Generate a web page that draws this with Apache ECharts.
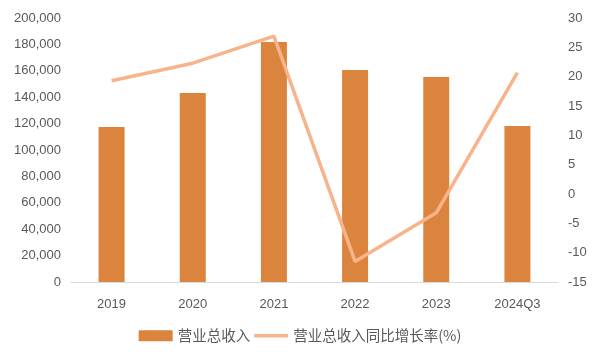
<!DOCTYPE html>
<html><head><meta charset="utf-8">
<script src="https://cdn.jsdelivr.net/npm/echarts@6/dist/echarts.min.js"></script>
<style>html,body{margin:0;padding:0;background:#fff}#c{width:600px;height:360px}</style>
</head><body><div id="c"></div>
<script>
const categories = ['2019','2020','2021','2022','2023','2024Q3'];
const revenue = [117400, 143200, 181800, 160600, 155300, 118200];
const growth = [19.3, 22.3, 26.9, -11.5, -3.2, 20.7];
const seriesNames = ['营业总收入', '营业总收入同比增长率(%)'];

const chart = echarts.init(document.getElementById('c'));
const font = '"Noto Sans CJK SC", "Microsoft YaHei", sans-serif';
chart.setOption({
  animation: false,
  grid: {left: 71, right: 42, top: 18, bottom: 78},
  legend: {
    bottom: 12, left: 'center', itemGap: 4, itemWidth: 34, itemHeight: 11,
    textStyle: {color: '#595959', fontSize: 14.5, fontFamily: font},
    data: [{name: seriesNames[0], icon: 'rect'}, {name: seriesNames[1], icon: 'path://M0,0H34V3.5H0Z'}]
  },
  xAxis: {
    type: 'category', data: categories,
    axisLine: {lineStyle: {color: '#d9d9d9', width: 1}},
    axisTick: {show: false},
    axisLabel: {color: '#595959', fontSize: 13, margin: 16, fontFamily: 'Liberation Sans, sans-serif'}
  },
  yAxis: [{
    type: 'value', min: 0, max: 200000, interval: 20000,
    splitLine: {show: false}, axisLine: {show: false}, axisTick: {show: false},
    axisLabel: {color: '#595959', fontSize: 13, margin: 10, fontFamily: 'Liberation Sans, sans-serif',
      formatter: v => v.toLocaleString('en-US')}
  }, {
    type: 'value', min: -15, max: 30, interval: 5,
    splitLine: {show: false}, axisLine: {show: false}, axisTick: {show: false},
    axisLabel: {color: '#595959', fontSize: 13, margin: 10, fontFamily: 'Liberation Sans, sans-serif'}
  }],
  series: [{
    name: seriesNames[0], type: 'bar', data: revenue, barWidth: 26,
    itemStyle: {color: '#DA843E'}
  }, {
    name: seriesNames[1], type: 'line', yAxisIndex: 1, data: growth,
    symbol: 'none', lineStyle: {color: '#F9B38A', width: 3.5},
    itemStyle: {color: '#F9B38A'}
  }]
});
</script></body></html>
